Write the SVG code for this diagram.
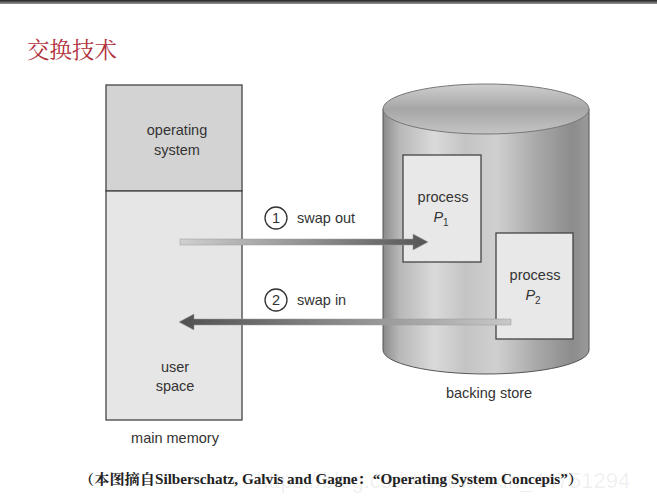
<svg xmlns="http://www.w3.org/2000/svg" width="657" height="503" viewBox="0 0 657 503">
<defs>
<style>
.lbl{font-family:"Liberation Sans",Arial,sans-serif;font-size:14.5px;fill:#333;text-anchor:middle}
.box{stroke:#444;stroke-width:1.3}
</style>
<linearGradient id="cyl" x1="0" y1="0" x2="1" y2="0">
<stop offset="0" stop-color="#8a8a8a"/>
<stop offset="0.08" stop-color="#b8b8b8"/>
<stop offset="0.25" stop-color="#dadada"/>
<stop offset="0.4" stop-color="#c4c4c4"/>
<stop offset="0.55" stop-color="#d0d0d0"/>
<stop offset="0.75" stop-color="#a8a8a8"/>
<stop offset="0.92" stop-color="#8c8c8c"/>
<stop offset="1" stop-color="#9a9a9a"/>
</linearGradient>
<linearGradient id="top" x1="0" y1="0" x2="0" y2="1">
<stop offset="0" stop-color="#cfcfcf"/>
<stop offset="0.5" stop-color="#a6a6a6"/>
<stop offset="1" stop-color="#c4c4c4"/>
</linearGradient>
<linearGradient id="out" x1="0" y1="0" x2="1" y2="0">
<stop offset="0" stop-color="#d0d0d0"/>
<stop offset="1" stop-color="#555"/>
</linearGradient>
<linearGradient id="in" x1="0" y1="0" x2="1" y2="0">
<stop offset="0" stop-color="#505050"/>
<stop offset="1" stop-color="#c8c8c8"/>
</linearGradient>
<linearGradient id="bar" x1="0" y1="0" x2="0" y2="1">
<stop offset="0" stop-color="#222"/>
<stop offset="1" stop-color="#999"/>
</linearGradient>
</defs>
<rect width="657" height="503" fill="#fff"/>
<rect x="0" y="0" width="657" height="4" fill="url(#bar)"/>
<text x="27" y="58" font-family="'Noto Serif CJK SC','Noto Sans CJK SC',serif" font-size="22.5" fill="#b0303c">交换技术</text>

<g id="main-memory">
<rect class="box" x="106" y="85" width="136" height="106" fill="#d3d3d3"/>
<rect class="box" x="106" y="191" width="136" height="229" fill="#e6e6e6"/>
<text class="lbl" x="177" y="135">operating</text>
<text class="lbl" x="177" y="155">system</text>
<text class="lbl" x="175" y="372">user</text>
<text class="lbl" x="175" y="391">space</text>
<text class="lbl" x="175" y="443">main memory</text>
</g>

<g id="backing-store">
<path d="M383,109 V350 A103,24 0 0 0 589,350 V109 Z" fill="url(#cyl)" stroke="#555" stroke-width="1"/>
<ellipse cx="486" cy="109" rx="103" ry="25" fill="url(#top)" stroke="#777" stroke-width="1"/>
<text class="lbl" x="489" y="398">backing store</text>
</g>

<g id="process-p1">
<rect class="box" x="403" y="155" width="78" height="107" fill="#e8e8e8"/>
<text class="lbl" x="443" y="202">process</text>
<text class="lbl" x="441" y="222" font-style="italic">P<tspan font-size="10" dy="4" font-style="normal">1</tspan></text>
</g>

<g id="process-p2">
<rect class="box" x="496" y="233" width="77" height="106" fill="#e8e8e8"/>
<text class="lbl" x="535" y="280">process</text>
<text class="lbl" x="533" y="300" font-style="italic">P<tspan font-size="10" dy="4" font-style="normal">2</tspan></text>
</g>

<g id="connectors">
<g id="swap-out">
<path d="M180,239 H413 V234 L428,242 L413,250 V245 H180 Z" fill="url(#out)" stroke="#999" stroke-width="0.5"/>
<circle cx="276" cy="218" r="11" fill="#fff" stroke="#333" stroke-width="1.3"/>
<text class="lbl" x="276" y="223">1</text>
<text class="lbl" x="297" y="223" style="text-anchor:start">swap out</text>
</g>
<g id="swap-in">
<path d="M511,319 H194 V314 L179,322 L194,330 V325 H511 Z" fill="url(#in)" stroke="#999" stroke-width="0.5"/>
<circle cx="276" cy="300" r="11" fill="#fff" stroke="#333" stroke-width="1.3"/>
<text class="lbl" x="276" y="305">2</text>
<text class="lbl" x="297" y="305" style="text-anchor:start">swap in</text>
</g>
</g>

<text x="256" y="488" font-family="'Liberation Sans',sans-serif" font-size="22" fill="#000" fill-opacity="0.07">https://blog.csdn.net/weixin_44751294</text>
<text x="79" y="484" font-family="'Liberation Serif','Noto Serif CJK SC','Noto Sans CJK SC',serif" font-size="14" font-weight="bold" fill="#222" textLength="504" lengthAdjust="spacingAndGlyphs">（本图摘自Silberschatz, Galvis and  Gagne：“Operating System Concepis”）</text>
</svg>
